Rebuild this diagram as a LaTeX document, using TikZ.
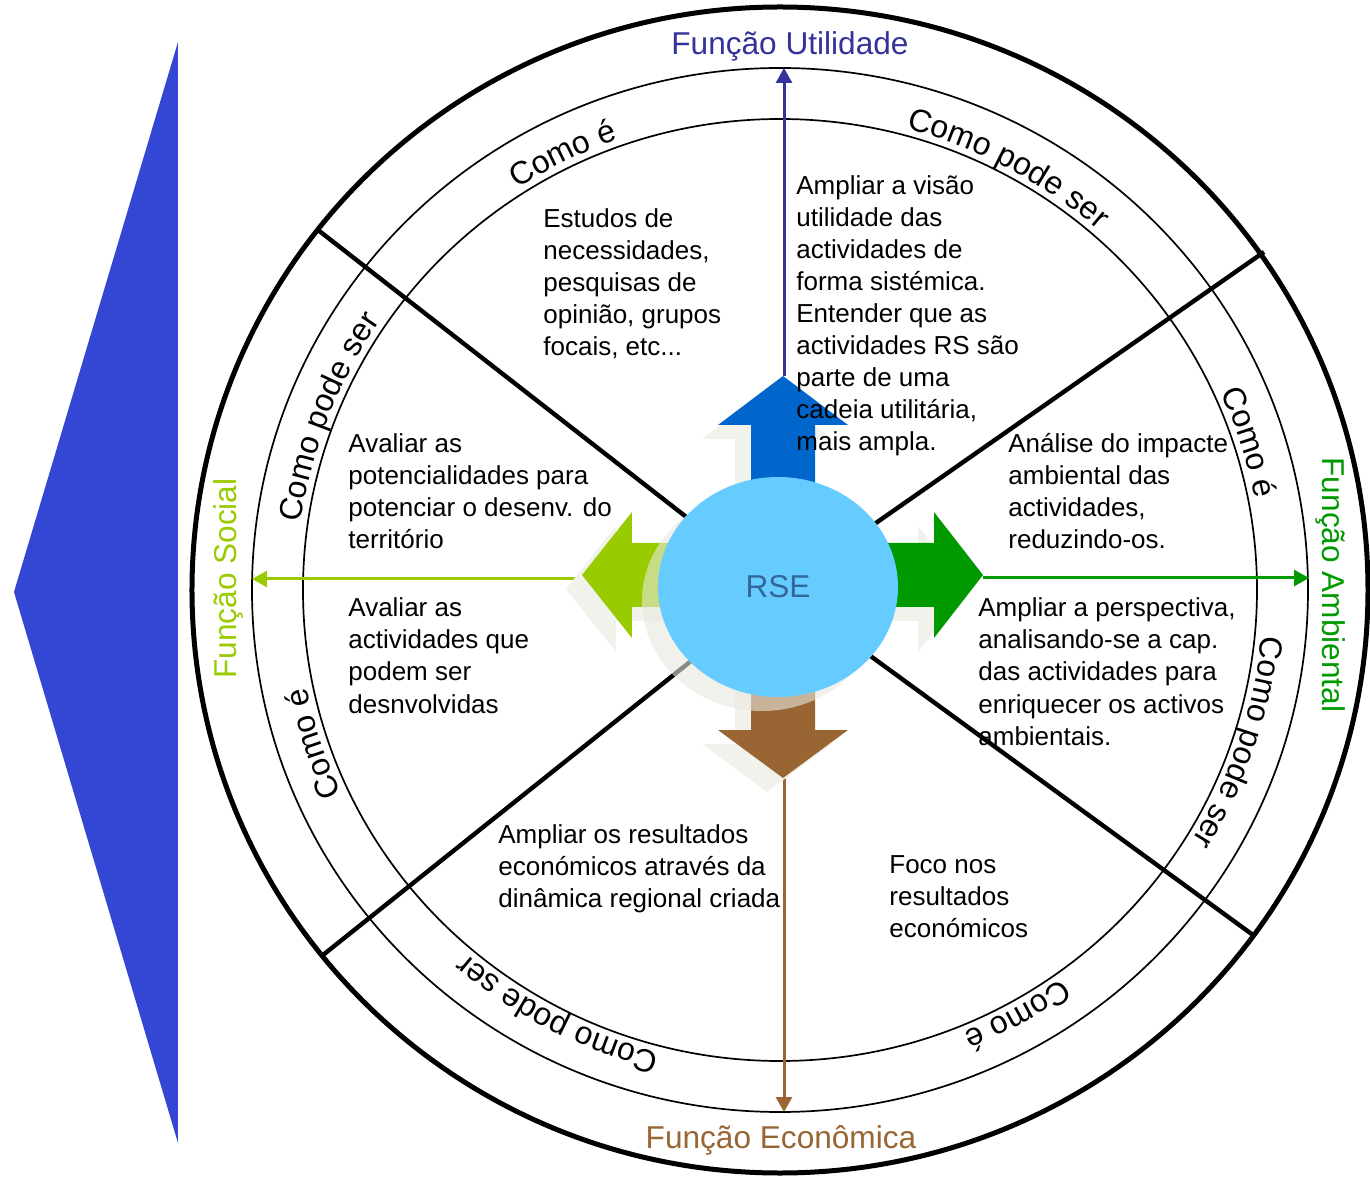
\documentclass[tikz,border=0pt]{standalone}
\usepackage{fontspec}
\setmainfont{Liberation Sans}
\usetikzlibrary{decorations.text,arrows.meta,shapes.geometric}
\definecolor{tribl}{RGB}{51,71,212}
\definecolor{utilc}{RGB}{51,51,153}
\definecolor{socc}{RGB}{153,204,0}
\definecolor{ambc}{RGB}{0,153,0}
\definecolor{econc}{RGB}{153,102,51}
\definecolor{upc}{RGB}{0,102,204}
\definecolor{rsec}{RGB}{102,204,255}
\definecolor{rsetxt}{RGB}{51,102,153}
\definecolor{shadc}{RGB}{242,242,237}
\definecolor{eshadc}{RGB}{232,232,224}
\newcommand{\bodyfont}{\fontsize{13}{16}\selectfont}
\newcommand{\labfont}{\fontsize{15.8}{19}\selectfont}
\newcommand{\arcfont}{\fontsize{16}{19}\selectfont}
\newcommand{\arclabel}[2]{%
  \path[decorate,decoration={text along path,text={|\arcfont|#2},text align=center}]
    ({484*cos(#1+35)},{478*sin(#1+35)}) arc[start angle={#1+35},end angle={#1-35},x radius=484,y radius=478];}
\newcommand{\blocktext}[1]{\begin{tabular}[t]{@{}l@{}}#1\end{tabular}}
\begin{document}
\begin{tikzpicture}[x=0.5pt,y=0.5pt,
  bodytext/.style={anchor=base west,inner sep=0pt,font=\bodyfont},
  funclab/.style={anchor=base,inner sep=0pt,font=\labfont},
  ring/.style={line width=0.85pt},
  spoke/.style={line width=2.2pt},
  axisline/.style={line width=1.5pt,-{Triangle[length=7.5pt,width=8pt]}},
]
\useasboundingbox[fill=white] (-780,-587) rectangle (590,590);
% blue triangle
\fill[tribl] (-602,548) -- (-766,-2) -- (-602,-553) -- cycle;
% rings
\draw[line width=2.5pt] (0,0) ellipse[x radius=588,y radius=583];
\draw[ring] (0,0) ellipse[x radius=528,y radius=522];
\draw[ring] (0,0) ellipse[x radius=477,y radius=471];
% spokes
\draw[spoke] (-462,360) -- (0,0);
\draw[spoke] (484,338) -- (0,0);
\draw[spoke] (-457,-365) -- (0,0);
\draw[spoke] (473,-345) -- (0,0);
% axis coordinates
\coordinate (utiltip) at (4,522);
\coordinate (econtip) at (4,-522);
\coordinate (soctip) at (-528,11);
\coordinate (ambtip) at (529,12);
\coordinate (upstart) at (4,214);
\coordinate (downstart) at (4,-188);
\coordinate (leftstart) at (-198,11);
\coordinate (rightstart) at (203,12);
\draw[axisline,utilc] (upstart) -- (utiltip);
\draw[axisline,econc] (downstart) -- (econtip);
\draw[axisline,socc] (leftstart) -- (soctip);
\draw[axisline,ambc] (rightstart) -- (ambtip);
% arrow shadows
\begin{scope}[shift={(-16,-14)}]
\fill[shadc] (-29,70) -- (-29,165) -- (-62,165) -- (3,214) -- (68,165) -- (35,165) -- (35,70) -- cycle;
\fill[shadc] (-29,-70) -- (-29,-140) -- (-62,-140) -- (3,-188) -- (68,-140) -- (35,-140) -- (35,-70) -- cycle;
\fill[shadc] (-80,47) -- (-148,47) -- (-148,78) -- (-198,15) -- (-148,-48) -- (-148,-17) -- (-80,-17) -- cycle;
\fill[shadc] (80,47) -- (154,47) -- (154,78) -- (203,15) -- (154,-48) -- (154,-17) -- (80,-17) -- cycle;
\end{scope}
% arrows
\fill[upc] (-29,70) -- (-29,165) -- (-62,165) -- (3,214) -- (68,165) -- (35,165) -- (35,70) -- cycle;
\fill[econc] (-29,-70) -- (-29,-140) -- (-62,-140) -- (3,-188) -- (68,-140) -- (35,-140) -- (35,-70) -- cycle;
\fill[socc] (-80,47) -- (-148,47) -- (-148,78) -- (-198,15) -- (-148,-48) -- (-148,-17) -- (-80,-17) -- cycle;
\fill[ambc] (80,47) -- (154,47) -- (154,78) -- (203,15) -- (154,-48) -- (154,-17) -- (80,-17) -- cycle;
% ellipse shadow and RSE
\fill[eshadc,opacity=0.6] (-18,-11) ellipse[x radius=120,y radius=110];
\node[ellipse,fill=rsec,minimum width=120pt,minimum height=110pt,inner sep=0pt,text=rsetxt,font=\labfont] (rse) at (-2,3) {RSE};
% function labels
\node[funclab,text=utilc] (futil) at (10,535) {Função Utilidade};
\node[funclab,text=econc] (fecon) at (1,-558) {Função Econômica};
\node[funclab,text=socc,rotate=90] (fsoc) at (-543,11.5) {Função Social};
\node[funclab,text=ambc,rotate=-90] (famb) at (542,5) {Função Ambiental};
% body texts
\node[bodytext] (estudos) at (-237,362) {\blocktext{Estudos de\\necessidades,\\pesquisas de\\opinião, grupos\\focais, etc...}};
\node[bodytext] (visao) at (16,395) {\blocktext{Ampliar a visão\\utilidade das\\actividades de\\forma sistémica.\\Entender que as\\actividades RS são\\parte de uma\\cadeia utilitária,\\mais ampla.}};
\node[bodytext] (impacte) at (228,137) {\blocktext{Análise do impacte\\ambiental das\\actividades,\\reduzindo-os.}};
\node[bodytext] (perspectiva) at (198,-27) {\blocktext{Ampliar a perspectiva,\\analisando-se a cap.\\das actividades para\\enriquecer os activos\\ambientais.}};
\node[bodytext] (foco) at (109,-283) {\blocktext{Foco nos\\resultados\\económicos}};
\node[bodytext] (resultados) at (-282,-253) {\blocktext{Ampliar os resultados\\económicos através da\\dinâmica regional criada}};
\node[bodytext] (potencial) at (-432,137) {\blocktext{Avaliar as\\potencialidades para\\potenciar o desenv. do\\território}};
\node[bodytext] (avaliar) at (-432,-27) {\blocktext{Avaliar as\\actividades que\\podem ser\\desnvolvidas}};
% curved labels
\arclabel{116.3}{Como é}
\arclabel{61.8}{Como pode ser}
\arclabel{17.6}{Como é}
\arclabel{-18.5}{Como pode ser}
\arclabel{-61}{Como é}
\arclabel{-117.5}{Como pode ser}
\arclabel{-161.6}{Como é}
\arclabel{158.9}{Como pode ser}
\end{tikzpicture}
\end{document}
